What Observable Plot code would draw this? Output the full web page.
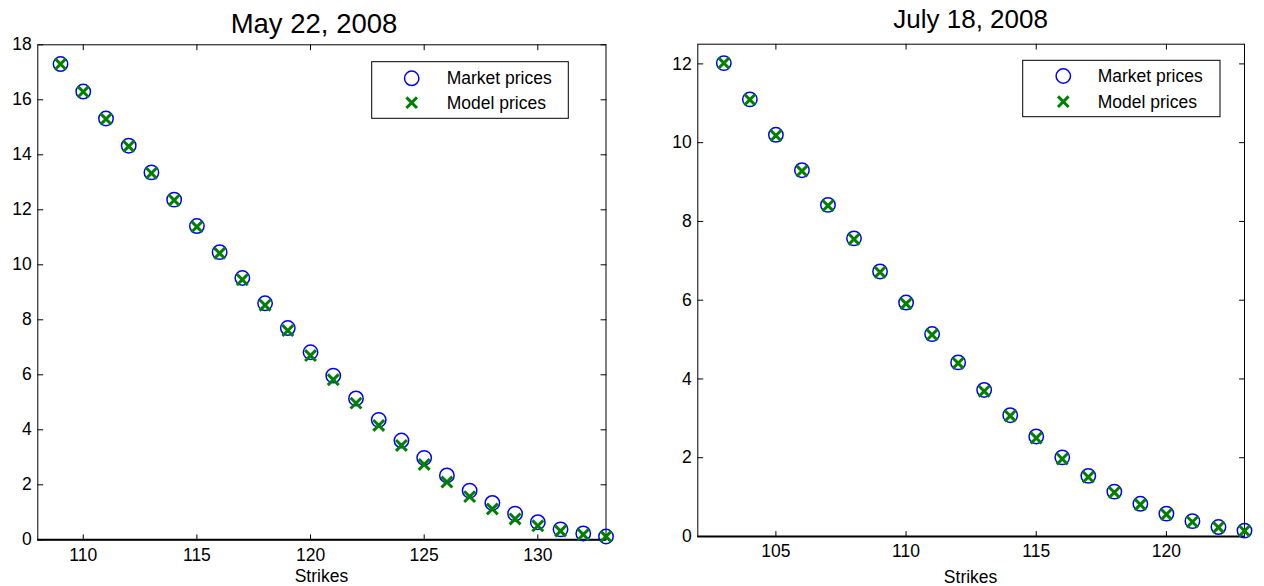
<!DOCTYPE html>
<html><head><meta charset="utf-8">
<script src="https://cdn.jsdelivr.net/npm/d3@7"></script>
<script src="https://cdn.jsdelivr.net/npm/@observablehq/plot@0.6"></script>
<style>
body{margin:0;background:#fff;}
#wrap{position:relative;width:1264px;height:586px;overflow:hidden;font-family:"Liberation Sans",Arial,Helvetica,sans-serif;}
#wrap > *{position:absolute;top:0;}
</style></head><body><div id="wrap"></div>
<script>
// ---- data ----
const strikesMay = [109,110,111,112,113,114,115,116,117,118,119,120,121,122,123,124,125,126,127,128,129,130,131,132,133];
const marketMay  = [17.30,16.30,15.32,14.33,13.36,12.37,11.41,10.46,9.52,8.60,7.70,6.82,5.97,5.14,4.36,3.61,2.98,2.34,1.79,1.34,0.95,0.64,0.38,0.23,0.12];
const modelMay   = [17.30,16.29,15.30,14.31,13.33,12.35,11.38,10.42,9.46,8.53,7.61,6.70,5.82,4.97,4.16,3.43,2.74,2.10,1.57,1.12,0.76,0.51,0.32,0.19,0.12];
const strikesJul = [103,104,105,106,107,108,109,110,111,112,113,114,115,116,117,118,119,120,121,122,123];
const marketJul  = [12.02,11.10,10.20,9.30,8.42,7.57,6.73,5.94,5.14,4.42,3.72,3.08,2.54,2.01,1.54,1.14,0.83,0.58,0.39,0.24,0.15];
const modelJul   = [12.02,11.09,10.18,9.28,8.40,7.55,6.71,5.91,5.12,4.40,3.69,3.06,2.50,1.97,1.51,1.12,0.81,0.56,0.37,0.23,0.14];
const xTicksMay = [110,115,120,125,130];
const yTicksMay = [0,2,4,6,8,10,12,14,16,18];
const xTicksJul = [105,110,115,120];
const yTicksJul = [0,2,4,6,8,10,12];
const titles = ["May 22, 2008", "July 18, 2008"];
const legendLabels = ["Market prices", "Model prices"];
const xLabel = "Strikes";

const BLUE = "#0000ff", GREEN = "#008000";
const FS = 17.5;
const wrap = document.getElementById("wrap");
const tickShape = {draw(ctx, l) { ctx.moveTo(0, 0); ctx.lineTo(0, -l); }};

function panel(o) {
  const rows = o.strikes.map((s, i) => ({s, market: o.market[i], model: o.model[i]}));
  const [x0, x1] = o.xDomain, [y0, y1] = o.yDomain;
  const vt = (data, opts) => Plot.vector(data, {length: 5, anchor: "start", shape: tickShape, stroke: "black", strokeWidth: 1, ...opts});
  const svg = Plot.plot({
    width: o.width, height: 586,
    marginLeft: o.m[0], marginRight: o.m[1], marginTop: o.m[2], marginBottom: o.m[3],
    x: {domain: o.xDomain}, y: {domain: o.yDomain},
    style: {fontSize: FS + "px", fontFamily: '"Liberation Sans",Arial,Helvetica,sans-serif', color: "black", background: "transparent", overflow: "visible"},
    marks: [
      Plot.axisX({ticks: o.xTicks, tickSize: 0, tickPadding: o.xPad, label: null, tickFormat: d => String(d)}),
      Plot.axisY({ticks: o.yTicks, tickSize: 0, tickPadding: 6, label: null, tickFormat: d => String(d)}),
      vt(o.xTicks, {x: d => d, y: () => y0, rotate: 0}),
      vt(o.xTicks, {x: d => d, y: () => y1, rotate: 180}),
      vt(o.yTicks, {y: d => d, x: () => x0, rotate: 90}),
      vt(o.yTicks, {y: d => d, x: () => x1, rotate: 270}),
      Plot.frame({stroke: "black", strokeWidth: 1}),
      Plot.ruleY([y0], {stroke: "black", strokeWidth: 2}),
      Plot.dot(rows, {x: "s", y: "market", r: 7.2, stroke: BLUE, strokeWidth: 1.5, fill: "none"}),
      Plot.dot(rows, {x: "s", y: "model", r: 5, symbol: "times", stroke: GREEN, strokeWidth: 3})
    ]
  });
  svg.style.left = o.left + "px";
  wrap.appendChild(svg);
}

panel({strikes: strikesMay, market: marketMay, model: modelMay, xDomain: [108, 133], yDomain: [0, 18],
  xTicks: xTicksMay, yTicks: yTicksMay, width: 620, left: 0, m: [37.3, 14.5, 44.3, 46.7], xPad: 9});
panel({strikes: strikesJul, market: marketJul, model: modelJul, xDomain: [102, 123], yDomain: [0, 12.5],
  xTicks: xTicksJul, yTicks: yTicksJul, width: 624, left: 640, m: [57.3, 20, 43.7, 50], xPad: 8});

// ---- overlay: titles, x labels, legends ----
const ov = d3.select(wrap).append("svg").attr("width", 1264).attr("height", 586)
  .style("left", "0px").style("pointer-events", "none")
  .attr("font-family", '"Liberation Sans",Arial,Helvetica,sans-serif');
const T = [{x: 314, y: 33.3, fs: 27.5}, {x: 970.6, y: 28.3, fs: 26}];
titles.forEach((t, i) => ov.append("text").attr("x", T[i].x).attr("y", T[i].y).attr("text-anchor", "middle").attr("font-size", T[i].fs).text(t));
[{x: 321.4, y: 582}, {x: 970.6, y: 582.5}].forEach(p =>
  ov.append("text").attr("x", p.x).attr("y", p.y).attr("text-anchor", "middle").attr("font-size", FS).text(xLabel));

const L = [{bx: 371.7, by: 61.7, w: 196.6, h: 56.6, cx: 411.7, r1: 78.3, r2: 102.7, tx: 446.7},
           {bx: 1022.7, by: 60.3, w: 197.3, h: 56.4, cx: 1063.3, r1: 76, r2: 101.7, tx: 1097.7}];
L.forEach(l => {
  const g = ov.append("g");
  g.append("rect").attr("x", l.bx).attr("y", l.by).attr("width", l.w).attr("height", l.h).attr("fill", "white").attr("stroke", "black").attr("stroke-width", 1);
  g.append("circle").attr("cx", l.cx).attr("cy", l.r1).attr("r", 7.2).attr("fill", "none").attr("stroke", BLUE).attr("stroke-width", 1.5);
  const s = 5.3;
  g.append("path").attr("d", `M${l.cx - s},${l.r2 - s}L${l.cx + s},${l.r2 + s}M${l.cx - s},${l.r2 + s}L${l.cx + s},${l.r2 - s}`).attr("stroke", GREEN).attr("stroke-width", 3);
  g.append("text").attr("x", l.tx).attr("y", l.r1 + 6).attr("font-size", FS).text(legendLabels[0]);
  g.append("text").attr("x", l.tx).attr("y", l.r2 + 6).attr("font-size", FS).text(legendLabels[1]);
});
</script></body></html>
